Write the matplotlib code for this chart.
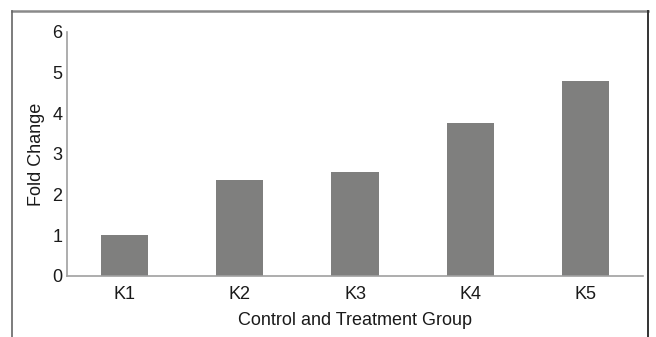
import matplotlib
matplotlib.use("Agg")
import matplotlib.pyplot as plt
from matplotlib.lines import Line2D

categories = ["K1", "K2", "K3", "K4", "K5"]
fold_change = [1.0, 2.37, 2.56, 3.76, 4.79]
y_ticks = [0, 1, 2, 3, 4, 5, 6]

plt.rcParams['font.family'] = ['Liberation Sans', 'DejaVu Sans']

W, H = 656, 337
fig = plt.figure(figsize=(W / 100, H / 100), dpi=100)
ax = fig.add_axes([67 / W, 1 - 276 / H, 576 / W, 244 / H])

x = list(range(len(categories)))
ax.bar(x, fold_change, width=0.41, color="#7f7f7e")
ax.set_xlim(-0.5, len(categories) - 0.5)
ax.set_ylim(0, 6)
ax.set_yticks(y_ticks)
ax.set_xticks(x)
ax.set_xticklabels(categories)
ax.tick_params(axis='both', length=0, labelsize=13, colors="#1a1a1a")
ax.tick_params(axis='y', pad=3.5)
ax.tick_params(axis='x', pad=7.5)
for s in ["top", "right"]:
    ax.spines[s].set_visible(False)
for s in ["left", "bottom"]:
    ax.spines[s].set_color("#a0a0a0")
    ax.spines[s].set_linewidth(1.2)

ax.set_ylabel("Fold Change", fontsize=13, color="#1a1a1a", labelpad=5)
ax.set_xlabel("Control and Treatment Group", fontsize=13, color="#1a1a1a", labelpad=6)

# figure frame (top, left, right)
fig.add_artist(Line2D([11.5 / W, 647.5 / W], [1 - 11 / H, 1 - 11 / H], color="#8a8a8a", lw=1.8, transform=fig.transFigure))
fig.add_artist(Line2D([11.5 / W, 11.5 / W], [0, 1 - 11 / H], color="#666666", lw=1.2, transform=fig.transFigure))
fig.add_artist(Line2D([647.5 / W, 647.5 / W], [0, 1 - 11 / H], color="#333333", lw=1.4, transform=fig.transFigure))

fig.savefig("out.png", dpi=100)
